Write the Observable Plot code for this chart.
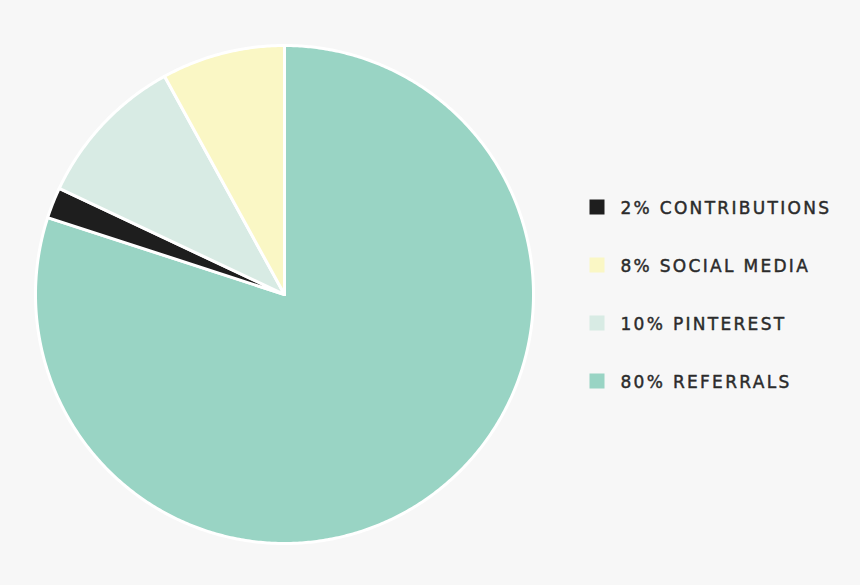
<!DOCTYPE html>
<html>
<head>
<meta charset="utf-8">
<script src="https://cdn.jsdelivr.net/npm/d3@7"></script>
<script src="https://cdn.jsdelivr.net/npm/@observablehq/plot@0.6"></script>
<style>
  html, body { margin: 0; padding: 0; background: #f7f7f7; }
  #chart { width: 860px; height: 585px; }
</style>
</head>
<body>
<div id="chart"></div>
<script>
// Data
const categories = ["Contributions", "Social Media", "Pinterest", "Referrals"];
const values = [2, 8, 10, 80];
const labels = ["2% CONTRIBUTIONS", "8% SOCIAL MEDIA", "10% PINTEREST", "80% REFERRALS"];
const colors = ["#1e1e1e", "#faf7c5", "#d8ebe4", "#99d4c4"];
// clockwise order of slices starting at 12 o'clock
const pieOrder = ["Referrals", "Contributions", "Pinterest", "Social Media"];

// Layout
const W = 860, H = 585;
const cx = 284, cy = 294, R = 249;

const total = d3.sum(values);
const pts = [];
let acc = 0;
for (const name of pieOrder) {
  const v = values[categories.indexOf(name)];
  const a0 = acc / total * 2 * Math.PI;
  const a1 = (acc + v) / total * 2 * Math.PI;
  acc += v;
  pts.push({name, x: cx, y: cy});
  const n = Math.max(2, Math.ceil((a1 - a0) / (Math.PI / 360)));
  for (let i = 0; i <= n; i++) {
    const a = a0 + (a1 - a0) * i / n;
    pts.push({name, x: cx + R * Math.sin(a), y: cy - R * Math.cos(a)});
  }
  pts.push({name, x: cx, y: cy});
}

const legend = categories.map((name, i) => ({name, label: labels[i], i}));
const lx = 597, ly0 = 207, dy = 58, sq = 7.5;

const chart = Plot.plot({
  width: W, height: H,
  margin: 0,
  style: {background: "#f7f7f7", overflow: "visible"},
  x: {domain: [0, W], range: [0, W], axis: null},
  y: {domain: [0, H], range: [0, H], axis: null},
  color: {domain: categories, range: colors},
  marks: [
    Plot.line(pts, {x: "x", y: "y", z: "name", fill: "name", stroke: "white", strokeWidth: 3, strokeLinejoin: "round"}),
    Plot.rect(legend, {
      x1: d => lx - sq, x2: d => lx + sq,
      y1: d => ly0 + d.i * dy - sq, y2: d => ly0 + d.i * dy + sq,
      fill: "name"
    }),
    Plot.text(legend, {
      x: d => 620, y: d => ly0 + d.i * dy + 1,
      text: "label", textAnchor: "start",
      fill: "#2b2b2b", stroke: "#2b2b2b", strokeWidth: 0.45,
      fontSize: 17, fontFamily: "DejaVu Sans",
      fontWeight: "normal"
    })
  ]
});
chart.querySelectorAll("text").forEach(t => t.setAttribute("letter-spacing", "2.3"));
document.getElementById("chart").appendChild(chart);
</script>
</body>
</html>
